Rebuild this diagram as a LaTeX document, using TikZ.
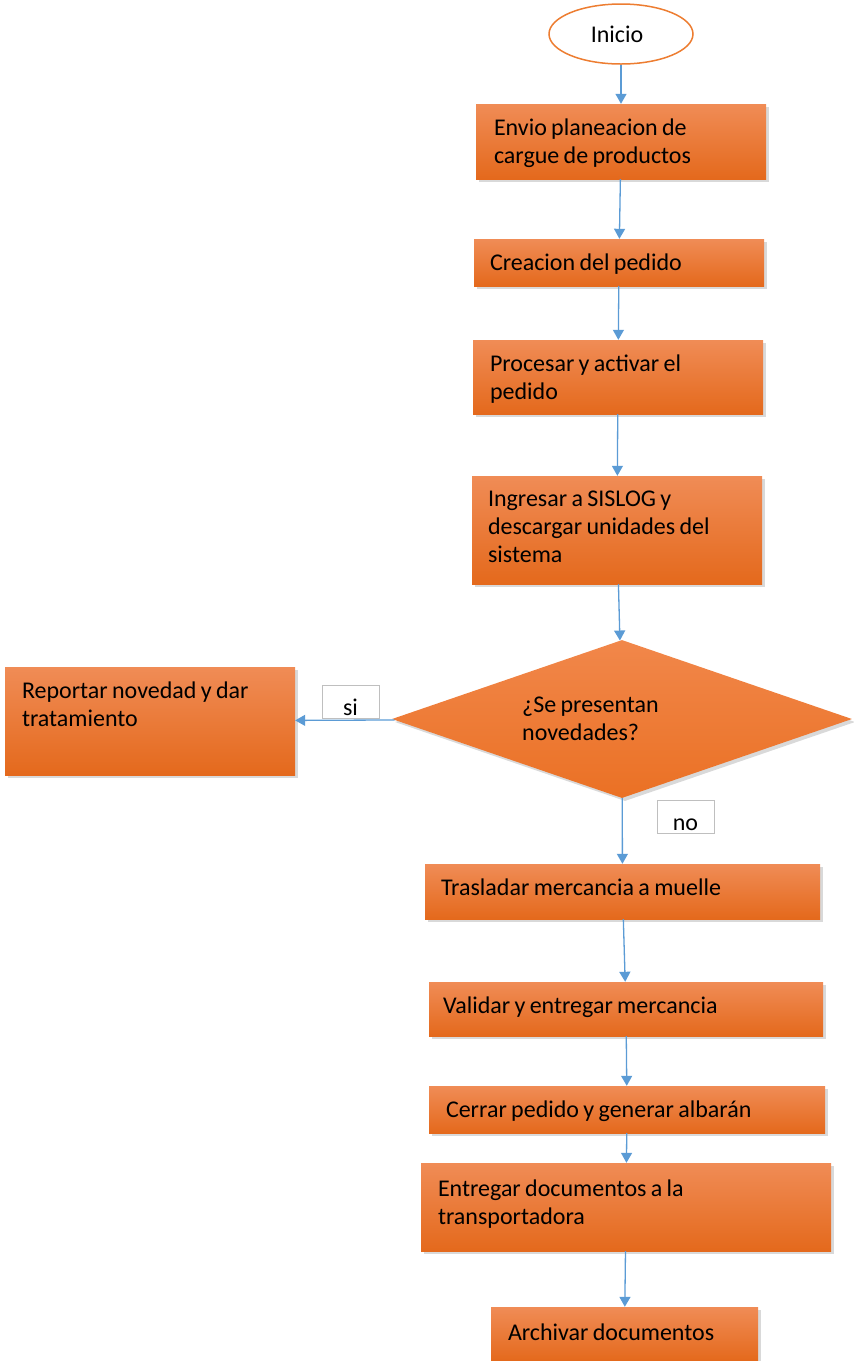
\documentclass[tikz,border=0pt]{standalone}
\usepackage{fontspec}
\setmainfont[WordSpace=0.8]{Carlito}
\usetikzlibrary{shapes.geometric, arrows.meta, shadows}
\definecolor{boxtop}{HTML}{F08C56}
\definecolor{boxmid}{HTML}{F47C30}
\definecolor{boxbot}{HTML}{E4691C}
\definecolor{edgeorange}{HTML}{ED7D31}
\definecolor{flowblue}{HTML}{5B9BD5}
\definecolor{taggray}{HTML}{BFBFBF}
\tikzstyle{process}  = [rectangle, draw=none, top color=boxtop, middle color=boxmid,
                        bottom color=boxbot, inner sep=0pt,
                        drop shadow={shadow xshift=3pt, shadow yshift=-3pt, opacity=0.3}]
\tikzstyle{decision} = [diamond, draw=none, top color=boxtop!70!boxmid, middle color=boxmid,
                        bottom color=boxbot!60!boxmid, inner sep=0pt,
                        drop shadow={shadow xshift=3pt, shadow yshift=-3pt, opacity=0.3}]
\tikzstyle{startstop} = [ellipse, draw=edgeorange, line width=1.5pt, fill=white,
                         minimum width=144pt, minimum height=60pt, inner sep=0pt]
\tikzstyle{txt}      = [anchor=north west, align=left, inner sep=0pt]
\tikzstyle{tag}      = [rectangle, draw=taggray, line width=1pt, fill=white,
                        minimum width=57pt, inner sep=0pt, text height=30pt, text depth=3pt]
\tikzstyle{arrow}    = [draw=flowblue, line width=1.3pt, -{Triangle[length=10pt,width=11pt]}]

\begin{document}
\begin{tikzpicture}[x=1pt, y=-1pt, every node/.style={font=\fontsize{24}{28}\selectfont}]
  \useasboundingbox (0,0) rectangle (854,1361);

  % --- Start ---
  \node (inicio) [startstop] at (621,34) {Inicio\hspace*{8pt}};

  % --- Main column ---
  \node (envio)    [process, minimum width=290pt, minimum height=75pt]  at (621,141.5) {};
  \node (creacion) [process, minimum width=290pt, minimum height=47pt]  at (619,262.5) {};
  \node (procesar) [process, minimum width=290pt, minimum height=74pt]  at (618,377) {};
  \node (ingresar) [process, minimum width=290pt, minimum height=108pt] at (617,530) {};
  \node (novedad)  [decision, minimum width=460pt, minimum height=158pt] at (622,719) {};
  \node (reportar) [process, minimum width=290pt, minimum height=108pt] at (150,721) {};
  \node (trasladar) [process, minimum width=395pt, minimum height=55pt] at (622.5,891.5) {};
  \node (validar)   [process, minimum width=394pt, minimum height=54pt] at (626,1009) {};
  \node (cerrar)    [process, minimum width=396pt, minimum height=47pt] at (627,1109.5) {};
  \node (entregar)  [process, minimum width=410pt, minimum height=88pt] at (626,1207) {};
  \node (archivar)  [process, minimum width=267pt, minimum height=54pt] at (624.5,1334) {};

  % --- Texts ---
  \node (envio_t)    [txt] at ([shift={(18,15)}]envio.north west)    {Envio planeacion de\\cargue de productos};
  \node (creacion_t) [txt] at ([shift={(16,15)}]creacion.north west) {Creacion del pedido};
  \node (procesar_t) [txt] at ([shift={(17,15)}]procesar.north west) {Procesar y activar el\\pedido};
  \node (ingresar_t) [txt] at ([shift={(16,15)}]ingresar.north west) {Ingresar a SISLOG y\\descargar unidades del\\sistema};
  \node (novedad_t)  [txt] at (522,697) {¿Se presentan\\novedades?};
  \node (reportar_t) [txt] at ([shift={(17,15)}]reportar.north west) {Reportar novedad y dar\\tratamiento};
  \node (trasladar_t) [txt] at ([shift={(16,15)}]trasladar.north west) {Trasladar mercancia a muelle};
  \node (validar_t)   [txt] at ([shift={(14,15)}]validar.north west)   {Validar y entregar mercancia};
  \node (cerrar_t)    [txt] at ([shift={(17,15)}]cerrar.north west)    {Cerrar pedido y generar albarán};
  \node (entregar_t)  [txt] at ([shift={(17,17)}]entregar.north west)  {Entregar documentos a la\\transportadora};
  \node (archivar_t)  [txt] at ([shift={(17,17)}]archivar.north west)  {Archivar documentos};

  % Arrows
  \draw[arrow] (inicio) -- (envio);
  \draw[arrow] (envio) -- (creacion);
  \draw[arrow] (creacion) -- (procesar);
  \draw[arrow] (procesar) -- (ingresar);
  \draw[arrow] (ingresar) -- (novedad);
  \draw[arrow] (novedad) -- (reportar);
  \draw[arrow] (novedad) -- (trasladar);
  \draw[arrow] (trasladar) -- (validar);
  \draw[arrow] (validar) -- (cerrar);
  \draw[arrow] (cerrar) -- (entregar);
  \draw[arrow] (entregar) -- (archivar);

  % Labels
  \node (si) [tag] at (350.5,701.5) {si};
  \node (no) [tag] at (685.5,817) {no};

\end{tikzpicture}
\end{document}
